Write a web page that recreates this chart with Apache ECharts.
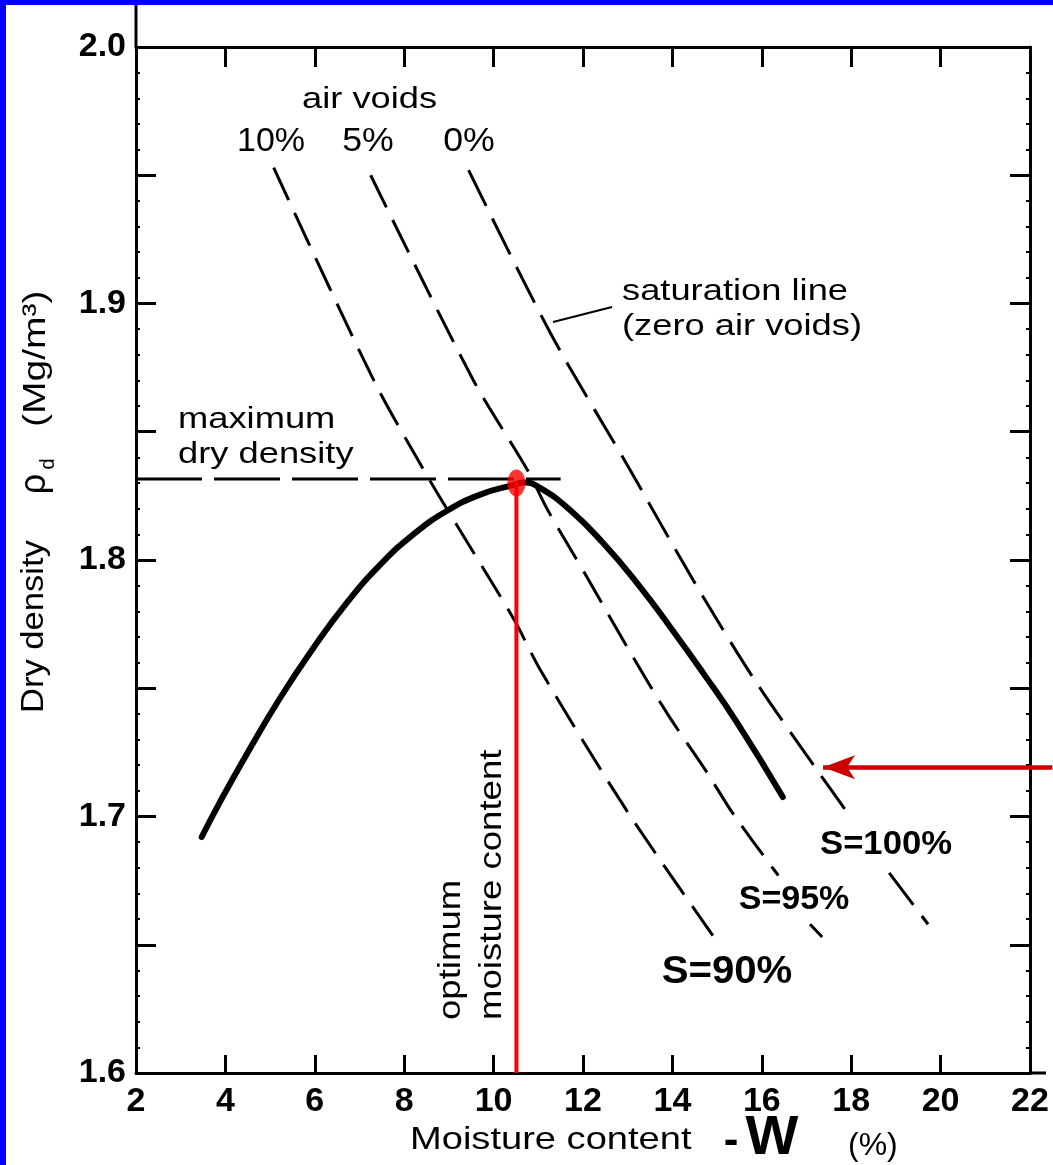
<!DOCTYPE html>
<html>
<head>
<meta charset="utf-8">
<script src="https://cdn.jsdelivr.net/npm/echarts@6/dist/echarts.min.js"></script>
<style>
html,body{margin:0;padding:0;background:#fff;}
#c{width:1053px;height:1165px;}
</style>
</head>
<body>
<div id="c"></div>
<script>
// ---------------- data ----------------
// Compaction curve: moisture content w (%) vs dry density (Mg/m3)
const compW   = [3.47, 3.88, 4.48, 5.22, 5.96, 6.71, 7.46, 8.20, 8.95, 9.70, 10.43, 10.70, 11.04, 11.71, 12.45, 13.21, 13.95, 14.69, 15.45, 16.47];
const compRho = [1.692, 1.7057, 1.7244, 1.7461, 1.7655, 1.7832, 1.7981, 1.8099, 1.8191, 1.8255, 1.8292, 1.8302, 1.8281, 1.8195, 1.8066, 1.7910, 1.7739, 1.7559, 1.7365, 1.7076];

// Air-void lines (null = gap in the dashed line around a label)
const av10W   = [5.08, 7.32, 8.44, 8.97, 10.45, 11.05, 12.99, 15.01];
const av10Rho = [1.953, 1.870, 1.835, 1.8195, 1.777, 1.757, 1.702, 1.651];

const av5W    = [7.25, 9.55, 10.76, 11.21, 12.10, 12.99, 13.89, 14.78, 15.36, 16.37, 16.70, 17.08, 17.35];
const av5Rho  = [1.950, 1.870, 1.835, 1.8195, 1.793, 1.766, 1.740, 1.717, 1.701, 1.677, null, 1.658, 1.653];

const av0W    = [9.44, 11.27, 12.99, 14.47, 15.81, 17.24, 18.02, 18.40, 18.85, 19.72];
const av0Rho  = [1.952, 1.8885, 1.837, 1.792, 1.754, 1.718, 1.699, null, 1.678, 1.658];

// Maximum dry density guide line and optimum moisture content
const maxDensW   = [2, 11.5];
const maxDensRho = [1.8316, 1.8316];
const optW       = [10.51, 10.51];
const optRho     = [1.830, 1.6];
const optPoint   = [10.51, 1.830];

// Red arrow pointing at the saturation line
const arrowW   = [22.5, 17.37];
const arrowRho = [1.7192, 1.7192];

// Axis ticks
const xMin = 2, xMax = 22, xStep = 2;
const yMin = 1.6, yMax = 2.0, yStep = 0.05;

// ---------------- helpers ----------------
const zip = (xs, ys) => xs.map((x, i) => [x, ys[i] === null ? '-' : ys[i]]);
const FONT = '"Liberation Sans", Arial, Helvetica, sans-serif';

function txt(text, x, y, o) {
  o = o || {};
  return {
    type: 'text', x: x, y: y, z: 100,
    scaleX: o.sx || 1,
    rotation: o.rot || 0,
    style: {
      text: text, x: 0, y: 0,
      fontSize: o.fs || 30, fontFamily: FONT,
      fontWeight: o.fw || 'normal',
      fill: o.color || '#000',
      align: o.align || 'left',
      verticalAlign: 'middle'
    }
  };
}

const axisLineStyle = { color: '#000', width: 3 };
const tickStyle = { color: '#000', width: 3 };

const chart = echarts.init(document.getElementById('c'), null, { renderer: 'canvas', width: 1053, height: 1165 });

const dashed = (name, w, r, dash) => ({
  name: name, type: 'line', data: zip(w, r), smooth: 0.3, showSymbol: false, symbol: 'none',
  connectNulls: false, z: 2, silent: true,
  lineStyle: { color: '#000', width: 3, type: dash }
});

const option = {
  animation: false,
  backgroundColor: '#fff',
  grid: { left: 136, right: 23, top: 47, bottom: 92, containLabel: false },
  xAxis: [
    {
      type: 'value', min: xMin, max: xMax, interval: xStep, position: 'bottom',
      axisLine: { show: true, onZero: false, lineStyle: axisLineStyle },
      axisTick: { show: true, inside: true, length: 18, lineStyle: tickStyle },
      axisLabel: { margin: 12, fontSize: 34, fontWeight: 'bold', color: '#000', fontFamily: FONT },
      splitLine: { show: false }
    },
    {
      type: 'value', min: xMin, max: xMax, interval: xStep, position: 'top',
      axisLine: { show: true, onZero: false, lineStyle: axisLineStyle },
      axisTick: { show: true, inside: true, length: 20, lineStyle: tickStyle },
      axisLabel: { show: false },
      splitLine: { show: false }
    }
  ],
  yAxis: [
    {
      type: 'value', min: yMin, max: yMax, interval: yStep, position: 'left',
      axisLine: { show: true, onZero: false, lineStyle: axisLineStyle },
      axisTick: { show: true, inside: true, length: 20, lineStyle: tickStyle },
      minorTick: { show: true, splitNumber: 5, length: 4, lineStyle: { color: '#000', width: 2 } },
      axisLabel: {
        margin: 10, fontSize: 34, fontWeight: 'bold', color: '#000', fontFamily: FONT,
        formatter: function (v) { const k = Math.round(v * 100); return k % 10 === 0 ? (k / 100).toFixed(1) : ''; }
      },
      splitLine: { show: false }
    },
    {
      type: 'value', min: yMin, max: yMax, interval: yStep, position: 'right',
      axisLine: { show: true, onZero: false, lineStyle: axisLineStyle },
      axisTick: { show: true, inside: true, length: 20, lineStyle: tickStyle },
      minorTick: { show: true, splitNumber: 5, length: 4, lineStyle: { color: '#000', width: 2 } },
      axisLabel: { show: false },
      splitLine: { show: false }
    }
  ],
  series: [
    dashed('air voids 10%', av10W, av10Rho, [36, 14]),
    dashed('air voids 5%', av5W, av5Rho, [36, 14]),
    dashed('air voids 0%', av0W, av0Rho, [40, 14]),
    {
      name: 'maximum dry density', type: 'line', data: zip(maxDensW, maxDensRho), showSymbol: false, symbol: 'none', z: 2,
      lineStyle: { color: '#000', width: 3, type: [66, 12] }
    },
    {
      name: 'compaction curve', type: 'line', data: zip(compW, compRho), smooth: 0.5, showSymbol: false, symbol: 'none', z: 3,
      lineStyle: { color: '#000', width: 6, cap: 'round' }
    },
    {
      name: 'optimum moisture content', type: 'line', data: zip(optW, optRho), showSymbol: false, symbol: 'none', z: 4,
      lineStyle: { color: '#ff0000', width: 4 }
    },
    {
      name: 'optimum point', type: 'scatter', data: [optPoint], symbol: 'circle', symbolSize: [18, 27], z: 5,
      itemStyle: { color: '#ff0000' }
    },
    {
      name: 'arrow', type: 'lines', coordinateSystem: 'cartesian2d', clip: false, z: 5, silent: true,
      symbol: ['none', 'arrow'], symbolSize: [0, [18, 32]],
      lineStyle: { color: '#cc0000', width: 4.5, opacity: 1, curveness: 0 },
      data: [{ coords: zip(arrowW, arrowRho) }]
    }
  ],
  graphic: [
    // blue frame strips
    { type: 'rect', shape: { x: 0, y: 0, width: 1053, height: 5 }, style: { fill: '#0000ff' }, z: 200 },
    { type: 'rect', shape: { x: 0, y: 0, width: 6, height: 1165 }, style: { fill: '#0000ff' }, z: 200 },
    // axis line extensions
    { type: 'line', shape: { x1: 136, y1: 5, x2: 136, y2: 47 }, style: { stroke: '#000', lineWidth: 3 }, z: 50 },
    { type: 'line', shape: { x1: 1030, y1: 1073, x2: 1046, y2: 1073 }, style: { stroke: '#000', lineWidth: 3 }, z: 50 },
    // leader line for saturation label
    { type: 'line', shape: { x1: 553, y1: 322, x2: 612, y2: 307 }, style: { stroke: '#000', lineWidth: 2 }, z: 50 },

    txt('air voids', 302, 100, { sx: 1.21 }),
    txt('10%', 271, 142, { fs: 34, align: 'center' }),
    txt('5%', 368, 142, { fs: 34, align: 'center', sx: 1.05 }),
    txt('0%', 469, 142, { fs: 34, align: 'center', sx: 1.05 }),
    txt('saturation line', 622, 292, { sx: 1.21 }),
    txt('(zero air voids)', 622, 327, { sx: 1.21 }),
    txt('maximum', 178, 420, { sx: 1.21 }),
    txt('dry density', 178, 455, { sx: 1.21 }),
    txt('S=100%', 886, 845, { fs: 33, fw: 'bold', align: 'center', sx: 1.05 }),
    txt('S=95%', 794, 900, { fs: 34, fw: 'bold', align: 'center' }),
    txt('S=90%', 727, 972, { fs: 39, fw: 'bold', align: 'center', sx: 1.03 }),
    txt('optimum', 451, 1020, { fs: 31, sx: 1.18, rot: Math.PI / 2 }),
    txt('moisture content', 492, 1020, { fs: 31, sx: 1.18, rot: Math.PI / 2 }),
    // y axis title
    txt('Dry density', 34, 713, { fs: 32, sx: 1.08, rot: Math.PI / 2 }),
    txt('ρ', 35, 484, { fs: 36, align: 'center', rot: Math.PI / 2 }),
    txt('d', 48, 464, { fs: 20, align: 'center', rot: Math.PI / 2 }),
    txt('(Mg/m³)', 36, 427, { fs: 32, sx: 1.22, rot: Math.PI / 2 }),
    // x axis title
    txt('Moisture content', 410, 1140, { fs: 32, sx: 1.19 }),
    txt('-', 731, 1142, { fs: 44, fw: 'bold', align: 'center' }),
    txt('W', 772, 1139, { fs: 56, fw: 'bold', align: 'center' }),
    txt('(%)', 848, 1146, { fs: 32 })
  ]
};
chart.setOption(option);
</script>
</body>
</html>
